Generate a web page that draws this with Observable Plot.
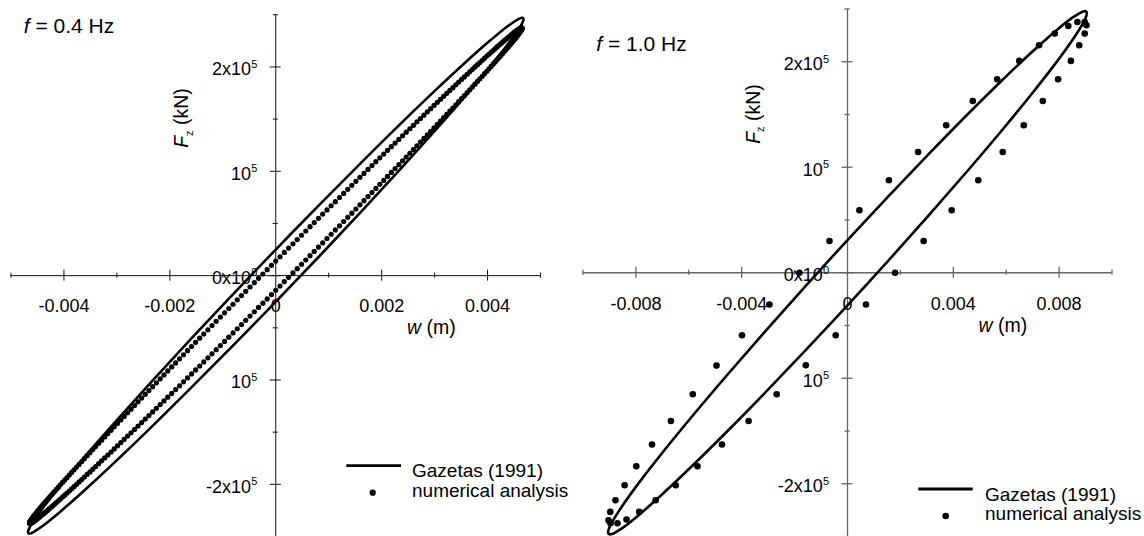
<!DOCTYPE html>
<html>
<head>
<meta charset="utf-8">
<script src="https://cdn.jsdelivr.net/npm/d3@7"></script>
<script src="https://cdn.jsdelivr.net/npm/@observablehq/plot@0.6"></script>
<style>
  html, body { margin: 0; padding: 0; background: #fff; }
  #wrap { position: relative; width: 1144px; height: 536px; overflow: hidden; background: #fff; }
  .panel { position: absolute; top: 0; width: 572px; height: 536px; }
  #legend { position: absolute; left: 0; top: 0; pointer-events: none; }
</style>
</head>
<body>
<div id="wrap">
  <div class="panel" id="p1" style="left:0"></div>
  <div class="panel" id="p2" style="left:572px"></div>
</div>
<script>
// ---------------- DATA ----------------
// w in mm (axis labelled in m), F in units of 10^5 kN

// axis ticks
const yMajor = [2, 1, 0, -1, -2];
const yMinor = [2.5, 1.5, 0.5, -0.5, -1.5, -2.5];
const yTickLabels = ["2x10<sup>5</sup>", "10<sup>5</sup>", "0x10<sup>0</sup>", "10<sup>5</sup>", "-2x10<sup>5</sup>"];

const x04Major = [-4, -2, 2, 4];
const x04Minor = [-5, -3, -1, 1, 3, 5];
const x04LabelVals = [-4, -2, 0, 2, 4];
const x04Labels = ["-0.004", "-0.002", "0", "0.002", "0.004"];

const x10Major = [-8, -4, 4, 8];
const x10Minor = [-10, -6, -2, 2, 6, 10];
const x10LabelVals = [-8, -4, 0, 4, 8];
const x10Labels = ["-0.008", "-0.004", "0", "0.004", "0.008"];

// f = 0.4 Hz : Gazetas (1991) loop
const gaz04_w = [0, 0.813, 1.601, 2.340, 3.008, 3.585, 4.053, 4.398, 4.609, 4.662, 4.680, 4.662, 4.609, 4.398, 4.053, 3.585, 3.008, 2.340, 1.601, 0.813,
                 0, -0.813, -1.601, -2.340, -3.008, -3.585, -4.053, -4.398, -4.609, -4.662, -4.680, -4.662, -4.609, -4.398, -4.053, -3.585, -3.008, -2.340, -1.601, -0.813];
const gaz04_F = [0.25, 0.673, 1.076, 1.447, 1.773, 2.045, 2.255, 2.397, 2.466, 2.472, 2.460, 2.429, 2.379, 2.226, 2.005, 1.723, 1.390, 1.014, 0.606, 0.181,
                 -0.25, -0.673, -1.076, -1.447, -1.773, -2.045, -2.255, -2.397, -2.466, -2.472, -2.460, -2.429, -2.379, -2.226, -2.005, -1.723, -1.390, -1.014, -0.606, -0.181];

// f = 0.4 Hz : numerical analysis (even output steps)
const num04_w = [0, .162, .325, .486, .647, .807, .967, 1.125, 1.282, 1.437, 1.590, 1.742, 1.891, 2.039, 2.183, 2.325, 2.464, 2.600, 2.733, 2.863, 2.989, 3.111, 3.230, 3.345, 3.455, 3.562, 3.664, 3.762, 3.855, 3.943, 4.027, 4.105, 4.179, 4.248, 4.311, 4.370, 4.423, 4.470, 4.512, 4.548, 4.579, 4.605, 4.624, 4.639, 4.647, 4.650, 4.647, 4.639, 4.624, 4.605, 4.579, 4.548, 4.512, 4.470, 4.423, 4.370, 4.311, 4.248, 4.179, 4.105, 4.027, 3.943, 3.855, 3.762, 3.664, 3.562, 3.455, 3.345, 3.230, 3.111, 2.989, 2.863, 2.733, 2.600, 2.464, 2.325, 2.183, 2.039, 1.891, 1.742, 1.590, 1.437, 1.282, 1.125, .967, .807, .647, .486, .325, .162,
  0, -.162, -.325, -.486, -.647, -.807, -.967, -1.125, -1.282, -1.437, -1.590, -1.742, -1.891, -2.039, -2.183, -2.325, -2.464, -2.600, -2.733, -2.863, -2.989, -3.111, -3.230, -3.345, -3.455, -3.562, -3.664, -3.762, -3.855, -3.943, -4.027, -4.105, -4.179, -4.248, -4.311, -4.370, -4.423, -4.470, -4.512, -4.548, -4.579, -4.605, -4.624, -4.639, -4.647, -4.650, -4.647, -4.639, -4.624, -4.605, -4.579, -4.548, -4.512, -4.470, -4.423, -4.370, -4.311, -4.248, -4.179, -4.105, -4.027, -3.943, -3.855, -3.762, -3.664, -3.562, -3.455, -3.345, -3.230, -3.111, -2.989, -2.863, -2.733, -2.600, -2.464, -2.325, -2.183, -2.039, -1.891, -1.742, -1.590, -1.437, -1.282, -1.125, -.967, -.807, -.647, -.486, -.325, -.162];
const num04_F = [.140, .223, .305, .387, .469, .549, .630, .709, .788, .866, .942, 1.018, 1.092, 1.165, 1.236, 1.306, 1.375, 1.441, 1.506, 1.570, 1.631, 1.690, 1.747, 1.802, 1.855, 1.905, 1.954, 2.000, 2.043, 2.084, 2.122, 2.158, 2.192, 2.222, 2.250, 2.275, 2.297, 2.317, 2.334, 2.347, 2.358, 2.367, 2.372, 2.374, 2.374, 2.370, 2.364, 2.355, 2.342, 2.328, 2.310, 2.289, 2.266, 2.240, 2.211, 2.179, 2.145, 2.108, 2.069, 2.027, 1.982, 1.936, 1.886, 1.835, 1.781, 1.725, 1.667, 1.607, 1.546, 1.482, 1.416, 1.349, 1.280, 1.209, 1.137, 1.064, .989, .913, .836, .758, .679, .599, .519, .438, .356, .274, .191, .109, .026, -.057,
  -.140, -.223, -.305, -.387, -.469, -.549, -.630, -.709, -.788, -.866, -.942, -1.018, -1.092, -1.165, -1.236, -1.306, -1.375, -1.441, -1.506, -1.570, -1.631, -1.690, -1.747, -1.802, -1.855, -1.905, -1.954, -2.000, -2.043, -2.084, -2.122, -2.158, -2.192, -2.222, -2.250, -2.275, -2.297, -2.317, -2.334, -2.347, -2.358, -2.367, -2.372, -2.374, -2.374, -2.370, -2.364, -2.355, -2.342, -2.328, -2.310, -2.289, -2.266, -2.240, -2.211, -2.179, -2.145, -2.108, -2.069, -2.027, -1.982, -1.936, -1.886, -1.835, -1.781, -1.725, -1.667, -1.607, -1.546, -1.482, -1.416, -1.349, -1.280, -1.209, -1.137, -1.064, -.989, -.913, -.836, -.758, -.679, -.599, -.519, -.438, -.356, -.274, -.191, -.109, -.026, .057];

// f = 0.4 Hz : numerical analysis (odd output steps)
const num04b_w = [.081, .243, .405, .567, .727, .887, 1.046, 1.204, 1.360, 1.514, 1.666, 1.817, 1.965, 2.111, 2.254, 2.395, 2.533, 2.667, 2.798, 2.926, 3.051, 3.171, 3.288, 3.401, 3.509, 3.614, 3.714, 3.809, 3.900, 3.986, 4.067, 4.143, 4.214, 4.280, 4.341, 4.397, 4.447, 4.492, 4.531, 4.565, 4.593, 4.615, 4.632, 4.644, 4.649,
  4.649, 4.644, 4.632, 4.615, 4.593, 4.565, 4.531, 4.492, 4.447, 4.397, 4.341, 4.280, 4.214, 4.143, 4.067, 3.986, 3.900, 3.809, 3.714, 3.614, 3.509, 3.401, 3.288, 3.171, 3.051, 2.926, 2.798, 2.667, 2.533, 2.395, 2.254, 2.111, 1.965, 1.817, 1.666, 1.514, 1.360, 1.204, 1.046, .887, .727, .567, .405, .243, .081,
  -.081, -.243, -.405, -.567, -.727, -.887, -1.046, -1.204, -1.360, -1.514, -1.666, -1.817, -1.965, -2.111, -2.254, -2.395, -2.533, -2.667, -2.798, -2.926, -3.051, -3.171, -3.288, -3.401, -3.509, -3.614, -3.714, -3.809, -3.900, -3.986, -4.067, -4.143, -4.214, -4.280, -4.341, -4.397, -4.447, -4.492, -4.531, -4.565, -4.593, -4.615, -4.632, -4.644, -4.649,
  -4.649, -4.644, -4.632, -4.615, -4.593, -4.565, -4.531, -4.492, -4.447, -4.397, -4.341, -4.280, -4.214, -4.143, -4.067, -3.986, -3.900, -3.809, -3.714, -3.614, -3.509, -3.401, -3.288, -3.171, -3.051, -2.926, -2.798, -2.667, -2.533, -2.395, -2.254, -2.111, -1.965, -1.817, -1.666, -1.514, -1.360, -1.204, -1.046, -.887, -.727, -.567, -.405, -.243, -.081];
const num04b_F = [.181, .264, .346, .428, .509, .590, .670, .749, .827, .904, .980, 1.055, 1.129, 1.201, 1.271, 1.341, 1.408, 1.474, 1.538, 1.600, 1.661, 1.719, 1.775, 1.829, 1.881, 1.930, 1.977, 2.022, 2.064, 2.104, 2.141, 2.175, 2.207, 2.236, 2.263, 2.287, 2.307, 2.326, 2.341, 2.353, 2.363, 2.369, 2.373, 2.374, 2.372,
  2.367, 2.360, 2.349, 2.335, 2.319, 2.300, 2.278, 2.253, 2.226, 2.195, 2.162, 2.127, 2.089, 2.048, 2.005, 1.959, 1.911, 1.861, 1.809, 1.754, 1.697, 1.638, 1.577, 1.514, 1.449, 1.383, 1.315, 1.245, 1.173, 1.101, 1.027, .951, .875, .797, .719, .639, .559, .478, .397, .315, .232, .150, .067, -.016, -.099,
  -.181, -.264, -.346, -.428, -.509, -.590, -.670, -.749, -.827, -.904, -.980, -1.055, -1.129, -1.201, -1.271, -1.341, -1.408, -1.474, -1.538, -1.600, -1.661, -1.719, -1.775, -1.829, -1.881, -1.930, -1.977, -2.022, -2.064, -2.104, -2.141, -2.175, -2.207, -2.236, -2.263, -2.287, -2.307, -2.326, -2.341, -2.353, -2.363, -2.369, -2.373, -2.374, -2.372,
  -2.367, -2.360, -2.349, -2.335, -2.319, -2.300, -2.278, -2.253, -2.226, -2.195, -2.162, -2.127, -2.089, -2.048, -2.005, -1.959, -1.911, -1.861, -1.809, -1.754, -1.697, -1.638, -1.577, -1.514, -1.449, -1.383, -1.315, -1.245, -1.173, -1.101, -1.027, -.951, -.875, -.797, -.719, -.639, -.559, -.478, -.397, -.315, -.232, -.150, -.067, .016, .099];

// f = 1.0 Hz : Gazetas (1991) loop
const gaz10_w = [0, 1.571, 3.095, 4.525, 5.817, 6.932, 7.837, 8.504, 8.912, 9.016, 9.050, 9.016, 8.912, 8.504, 7.837, 6.932, 5.817, 4.525, 3.095, 1.571,
                 0, -1.571, -3.095, -4.525, -5.817, -6.932, -7.837, -8.504, -8.912, -9.016, -9.050, -9.016, -8.912, -8.504, -7.837, -6.932, -5.817, -4.525, -3.095, -1.571];
const gaz10_F = [0.31, 0.732, 1.132, 1.498, 1.818, 2.083, 2.285, 2.418, 2.477, 2.478, 2.460, 2.424, 2.369, 2.206, 1.975, 1.685, 1.344, 0.962, 0.550, 0.122,
                 -0.31, -0.732, -1.132, -1.498, -1.818, -2.083, -2.285, -2.418, -2.477, -2.478, -2.460, -2.424, -2.369, -2.206, -1.975, -1.685, -1.344, -0.962, -0.550, -0.122];

// f = 1.0 Hz : numerical analysis
const num10_w = [-1.82, -0.681, 0.450, 1.565, 2.669, 3.731, 4.737, 5.660, 6.488, 7.244, 7.837, 8.348, 8.692, 8.968, 9.036,
                 8.968, 8.760, 8.446, 7.962, 7.384, 6.665, 5.868, 4.945, 3.939, 2.877, 1.800,
                 0.699, -0.446, -1.577, -2.677, -3.739, -4.745, -5.671, -6.495, -7.255, -7.875, -8.355, -8.696, -8.960, -9.036,
                 -8.968, -8.771, -8.427, -7.985, -7.391, -6.677, -5.849, -4.953, -3.989, -2.953];
const num10_F = [0, 0.301, 0.592, 0.877, 1.145, 1.398, 1.628, 1.834, 2.008, 2.156, 2.267, 2.339, 2.377, 2.377, 2.346,
                 2.267, 2.156, 2.008, 1.834, 1.628, 1.398, 1.145, 0.877, 0.592, 0.301, 0,
                 -0.301, -0.592, -0.877, -1.152, -1.405, -1.628, -1.834, -2.014, -2.156, -2.267, -2.339, -2.374, -2.374, -2.346,
                 -2.267, -2.156, -2.014, -1.834, -1.628, -1.405, -1.152, -0.880, -0.592, -0.301];

const legendLabels = ["Gazetas (1991)", "numerical analysis"];
const titles = ["<i>f</i> = 0.4 Hz", "<i>f</i> = 1.0 Hz"];
const yTitle = "<i>F</i><sub>z</sub> (kN)";
const xTitle = "<i>w</i> (m)";

// ---------------- RENDER ----------------
const FONT = "'Liberation Sans', Arial, Helvetica, sans-serif";
const zip = (ws, Fs) => ws.map((w, i) => ({w, F: Fs[i]}));

function richify(svg) {
  d3.select(svg).selectAll("text").each(function () {
    const s = this.textContent;
    if (!s.includes("<")) return;
    const re = /<(i|sub|sup)>(.*?)<\/\1>/g;
    const parts = [];
    let last = 0, m;
    while ((m = re.exec(s))) {
      if (m.index > last) parts.push({t: s.slice(last, m.index)});
      parts.push({t: m[2], k: m[1]});
      last = re.lastIndex;
    }
    if (last < s.length) parts.push({t: s.slice(last)});
    const el = d3.select(this);
    el.text("");
    let shift = 0;
    for (const p of parts) {
      const ts = el.append("tspan").text(p.t);
      const target = p.k === "sup" ? -7.5 : p.k === "sub" ? 4.5 : 0;
      if (target !== shift) { ts.attr("dy", target - shift); shift = target; }
      if (p.k === "i") ts.attr("font-style", "italic");
      if (p.k === "sup" || p.k === "sub") ts.attr("font-size", "11px");
    }
  });
}

function panel(cfg) {
  const {mt, mr, xDomain, xMajor, xMinor, xLabelVals, xLabels, gaz, nums, axisColor, axisWidth, title, titlePos, yTitlePos, xTitlePos, dotR} = cfg;
  const ml = 10.5;
  const at = (px, py) => ({frameAnchor: "top-left", dx: px - ml, dy: py - mt, lineAnchor: "middle"});
  const plot = Plot.plot({
    width: 572,
    height: 536,
    marginLeft: ml,
    marginRight: mr,
    marginTop: mt,
    marginBottom: 0,
    x: {domain: xDomain, axis: null},
    y: {domain: [-2.5, 2.5], axis: null},
    style: {fontFamily: FONT, background: "transparent", color: "#000", overflow: "visible"},
    marks: [
      // axes crossing at origin
      Plot.ruleY([0], {x1: xDomain[0], x2: xDomain[1], stroke: axisColor, strokeWidth: axisWidth}),
      Plot.ruleX([0], {stroke: axisColor, strokeWidth: axisWidth}),
      Plot.ruleX(xMajor, {x: d => d, y1: 0, y2: 0, insetTop: -5.5, insetBottom: -5.5, stroke: axisColor, strokeWidth: axisWidth}),
      Plot.ruleX(xMinor, {x: d => d, y1: 0, y2: 0, insetTop: -2.5, insetBottom: -2.5, stroke: axisColor, strokeWidth: axisWidth}),
      Plot.ruleY(yMajor, {y: d => d, x1: 0, x2: 0, insetLeft: -5.5, insetRight: -5.5, stroke: axisColor, strokeWidth: axisWidth}),
      Plot.ruleY(yMinor, {y: d => d, x1: 0, x2: 0, insetLeft: -2.5, insetRight: -2.5, stroke: axisColor, strokeWidth: axisWidth}),
      // tick labels
      Plot.text(xLabelVals, {x: d => d, y: 0, text: (d, i) => xLabels[i], dy: 31, textAnchor: "middle", lineAnchor: "middle", fontSize: 18, fill: "#000"}),
      Plot.text(yMajor, {x: 0, y: d => d, text: (d, i) => yTickLabels[i], dx: -18.5, dy: 2.5, textAnchor: "end", lineAnchor: "middle", fontSize: 18, fill: "#000"}),
      // axis titles & panel title
      Plot.text([yTitle], {...at(yTitlePos[0], yTitlePos[1]), rotate: -90, textAnchor: "middle", fontSize: 19.5, fill: "#000"}),
      Plot.text([xTitle], {...at(xTitlePos[0], xTitlePos[1]), textAnchor: "start", fontSize: 19.5, fill: "#000"}),
      Plot.text([title], {...at(titlePos[0], titlePos[1]), textAnchor: "start", fontSize: 21, fill: "#000"}),
      // data
      ...nums.map(num => Plot.dot(num, {x: "w", y: "F", r: dotR, fill: "#000", stroke: "none"})),
      Plot.line(gaz, {x: "w", y: "F", curve: "catmull-rom-closed", stroke: "#000", strokeWidth: 2.6})
    ]
  });
  richify(plot);
  return plot;
}

document.getElementById("p1").appendChild(panel({
  mt: 14.3, mr: 32,
  xDomain: [-5, 5], xMajor: x04Major, xMinor: x04Minor, xLabelVals: x04LabelVals, xLabels: x04Labels,
  gaz: zip(gaz04_w, gaz04_F), nums: [zip(num04_w, num04_F), zip(num04b_w, num04b_F)],
  axisColor: "#111", axisWidth: 1,
  title: titles[0], titlePos: [23.3, 25.3],
  yTitlePos: [181.5, 117.5], xTitlePos: [406.6, 326.9],
  dotR: 2.6
}));

document.getElementById("p2").appendChild(panel({
  mt: 8.5, mr: 32.5,
  xDomain: [-10, 10], xMajor: x10Major, xMinor: x10Minor, xLabelVals: x10LabelVals, xLabels: x10Labels,
  gaz: zip(gaz10_w, gaz10_F), nums: [zip(num10_w, num10_F)],
  axisColor: "#666", axisWidth: 1.3,
  title: titles[1], titlePos: [23.7, 43.5],
  yTitlePos: [181, 113.5], xTitlePos: [406, 325.6],
  dotR: 3.3
}));

// ---------------- LEGENDS ----------------
const leg = d3.select("#wrap").append("svg")
  .attr("id", "legend").attr("width", 1144).attr("height", 536)
  .style("font-family", FONT);
const legends = [
  {x0: 346.3, x1: 401, ly: 465.7, dx: 372.7, dy: 492.7, tx: 412, t1: 477.4, t2: 496.7, r: 3.1},
  {x0: 918.3, x1: 972.7, ly: 489, dx: 945.7, dy: 516, tx: 985, t1: 500.7, t2: 520, r: 3.3}
];
for (const L of legends) {
  leg.append("line").attr("x1", L.x0).attr("x2", L.x1).attr("y1", L.ly).attr("y2", L.ly)
    .attr("stroke", "#000").attr("stroke-width", 2.8);
  leg.append("circle").attr("cx", L.dx).attr("cy", L.dy).attr("r", L.r).attr("fill", "#000");
  leg.append("text").attr("x", L.tx).attr("y", L.t1).attr("font-size", 19).text(legendLabels[0]);
  leg.append("text").attr("x", L.tx).attr("y", L.t2).attr("font-size", 19).text(legendLabels[1]);
}
</script>
</body>
</html>
